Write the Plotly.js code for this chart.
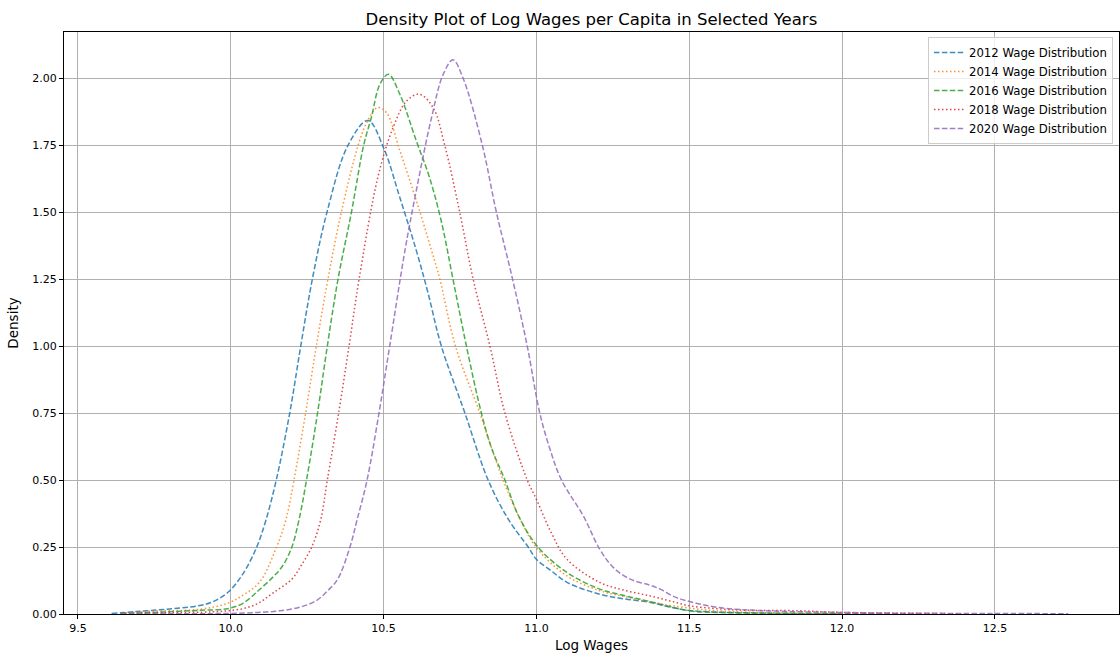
<!DOCTYPE html>
<html>
<head>
<meta charset="utf-8">
<script src="https://cdn.plot.ly/plotly-3.0.1.min.js"></script>
<style>html,body{margin:0;padding:0;background:#fff;}#chart{width:1120px;height:657px;}</style>
</head>
<body>
<div id="chart"></div>
<script>
// Data
const x2012 = [9.61, 9.69, 9.79, 9.89, 9.94, 9.99, 10.04, 10.085, 10.115, 10.149, 10.193, 10.229, 10.267, 10.315, 10.384, 10.449, 10.50, 10.553, 10.607, 10.645, 10.689, 10.766, 10.842, 10.91, 10.973, 11.00, 11.05, 11.10, 11.207, 11.29, 11.37, 11.44, 11.50, 11.59, 11.79, 11.99, 12.19];
const y2012 = [0.002, 0.009, 0.018, 0.03, 0.045, 0.08, 0.15, 0.25, 0.35, 0.5, 0.75, 1.0, 1.25, 1.5, 1.75, 1.842, 1.74, 1.555, 1.357, 1.2, 1.0, 0.75, 0.5, 0.35, 0.25, 0.204, 0.16, 0.118, 0.074, 0.056, 0.044, 0.025, 0.013, 0.007, 0.003, 0.001, 0.0005];

const x2014 = [9.64, 9.735, 9.90, 9.99, 10.04, 10.095, 10.15, 10.18, 10.207, 10.245, 10.280, 10.318, 10.362, 10.417, 10.445, 10.48, 10.51, 10.553, 10.607, 10.657, 10.684, 10.735, 10.815, 10.853, 10.891, 10.94, 11.00, 11.10, 11.207, 11.29, 11.37, 11.50, 11.59, 11.79, 11.99, 12.29];
const y2014 = [0.002, 0.01, 0.018, 0.04, 0.07, 0.12, 0.25, 0.35, 0.5, 0.75, 1.0, 1.25, 1.5, 1.75, 1.834, 1.89, 1.87, 1.73, 1.543, 1.357, 1.25, 1.0, 0.75, 0.62, 0.5, 0.37, 0.248, 0.142, 0.087, 0.065, 0.045, 0.022, 0.012, 0.004, 0.002, 0.0005];

const x2016 = [9.64, 9.79, 9.90, 9.99, 10.04, 10.09, 10.14, 10.17, 10.20, 10.223, 10.248, 10.284, 10.316, 10.351, 10.395, 10.435, 10.46, 10.488, 10.516, 10.553, 10.607, 10.65, 10.69, 10.727, 10.771, 10.82, 10.853, 10.897, 10.94, 11.005, 11.10, 11.207, 11.29, 11.37, 11.50, 11.59, 11.79, 11.99];
const y2016 = [0.002, 0.008, 0.014, 0.02, 0.04, 0.087, 0.14, 0.18, 0.25, 0.35, 0.5, 0.75, 1.0, 1.25, 1.5, 1.75, 1.853, 1.977, 2.014, 1.94, 1.766, 1.63, 1.46, 1.25, 1.0, 0.75, 0.62, 0.5, 0.37, 0.25, 0.155, 0.093, 0.068, 0.047, 0.012, 0.006, 0.002, 0.001];

const x2018 = [9.64, 9.79, 9.94, 9.99, 10.04, 10.09, 10.14, 10.20, 10.23, 10.265, 10.294, 10.316, 10.353, 10.387, 10.42, 10.482, 10.531, 10.575, 10.617, 10.662, 10.70, 10.749, 10.793, 10.848, 10.897, 10.97, 11.00, 11.05, 11.10, 11.207, 11.29, 11.37, 11.44, 11.50, 11.59, 11.69, 11.86, 11.99, 12.19, 12.39];
const y2018 = [0.001, 0.005, 0.008, 0.012, 0.02, 0.04, 0.08, 0.13, 0.18, 0.25, 0.35, 0.5, 0.75, 1.0, 1.25, 1.633, 1.815, 1.914, 1.94, 1.89, 1.75, 1.5, 1.25, 1.0, 0.75, 0.5, 0.428, 0.30, 0.204, 0.118, 0.088, 0.068, 0.048, 0.031, 0.02, 0.014, 0.012, 0.006, 0.003, 0.001];

const x2020 = [9.64, 9.89, 9.99, 10.09, 10.16, 10.225, 10.28, 10.32, 10.35, 10.39, 10.413, 10.446, 10.485, 10.52, 10.57, 10.607, 10.657, 10.695, 10.727, 10.76, 10.823, 10.869, 10.922, 10.97, 11.011, 11.045, 11.082, 11.154, 11.207, 11.252, 11.307, 11.37, 11.405, 11.45, 11.49, 11.59, 11.75, 11.99, 12.19, 12.49, 12.74];
const y2020 = [0.0005, 0.001, 0.002, 0.006, 0.012, 0.025, 0.05, 0.09, 0.13, 0.25, 0.35, 0.5, 0.75, 1.0, 1.357, 1.58, 1.853, 2.014, 2.068, 2.0, 1.75, 1.5, 1.25, 1.0, 0.75, 0.613, 0.5, 0.365, 0.242, 0.173, 0.13, 0.108, 0.093, 0.065, 0.05, 0.025, 0.012, 0.006, 0.003, 0.002, 0.001];

const seriesNames = ['2012 Wage Distribution', '2014 Wage Distribution', '2016 Wage Distribution', '2018 Wage Distribution', '2020 Wage Distribution'];
const colors = ['#1f77b4', '#ff7f0e', '#2ca02c', '#d62728', '#9467bd'];
const dashes = ['5.5px,2.4px', '1.5px,2.5px', '5.5px,2.4px', '1.5px,2.5px', '5.5px,2.4px'];
const xs = [x2012, x2014, x2016, x2018, x2020];
const ys = [y2012, y2014, y2016, y2018, y2020];

const traces = xs.map((x, i) => ({
  type: 'scatter', mode: 'lines', x: x, y: ys[i], name: seriesNames[i],
  opacity: 0.85,
  line: {color: colors[i], width: 1.5, dash: dashes[i], shape: 'spline', smoothing: 1}
}));

const font = 'DejaVu Sans, sans-serif';
const layout = {
  width: 1120, height: 657,
  margin: {l: 64, r: 1, t: 32, b: 43, pad: 0},
  paper_bgcolor: '#ffffff', plot_bgcolor: '#ffffff',
  font: {family: font, size: 11, color: '#000'},
  title: {text: 'Density Plot of Log Wages per Capita in Selected Years', font: {family: font, size: 16.5, color: '#000'}, x: 0.528, xanchor: 'center', y: 0.97, yanchor: 'middle'},
  xaxis: {
    range: [9.4545, 12.906], tickmode: 'linear', tick0: 9.5, dtick: 0.5, tickformat: '.1f',
    showline: true, linecolor: '#000', linewidth: 1, mirror: true,
    ticks: 'outside', ticklen: 4, tickcolor: '#000', tickwidth: 1,
    showgrid: true, gridcolor: '#b0b0b0', gridwidth: 1, zeroline: false,
    tickfont: {family: font, size: 11, color: '#000'},
    title: {text: 'Log Wages', font: {family: font, size: 13.5, color: '#000'}, standoff: 6}
  },
  yaxis: {
    range: [0, 2.172], tickmode: 'linear', tick0: 0, dtick: 0.25, tickformat: '.2f',
    showline: true, linecolor: '#000', linewidth: 1, mirror: true,
    ticks: 'outside', ticklen: 4, tickcolor: '#000', tickwidth: 1,
    showgrid: true, gridcolor: '#b0b0b0', gridwidth: 1, zeroline: false,
    tickfont: {family: font, size: 11, color: '#000'},
    title: {text: 'Density', font: {family: font, size: 13.5, color: '#000'}, standoff: 10}
  },
  legend: {
    x: 0.9943, y: 0.9914, xanchor: 'right', yanchor: 'top',
    bgcolor: 'rgba(255,255,255,0.8)', bordercolor: '#cccccc', borderwidth: 1,
    font: {family: font, size: 11.7, color: '#000'}, itemwidth: 30, tracegroupgap: 0
  },
  showlegend: true
};

Plotly.newPlot('chart', traces, layout, {displayModeBar: false, staticPlot: true});
</script>
</body>
</html>
